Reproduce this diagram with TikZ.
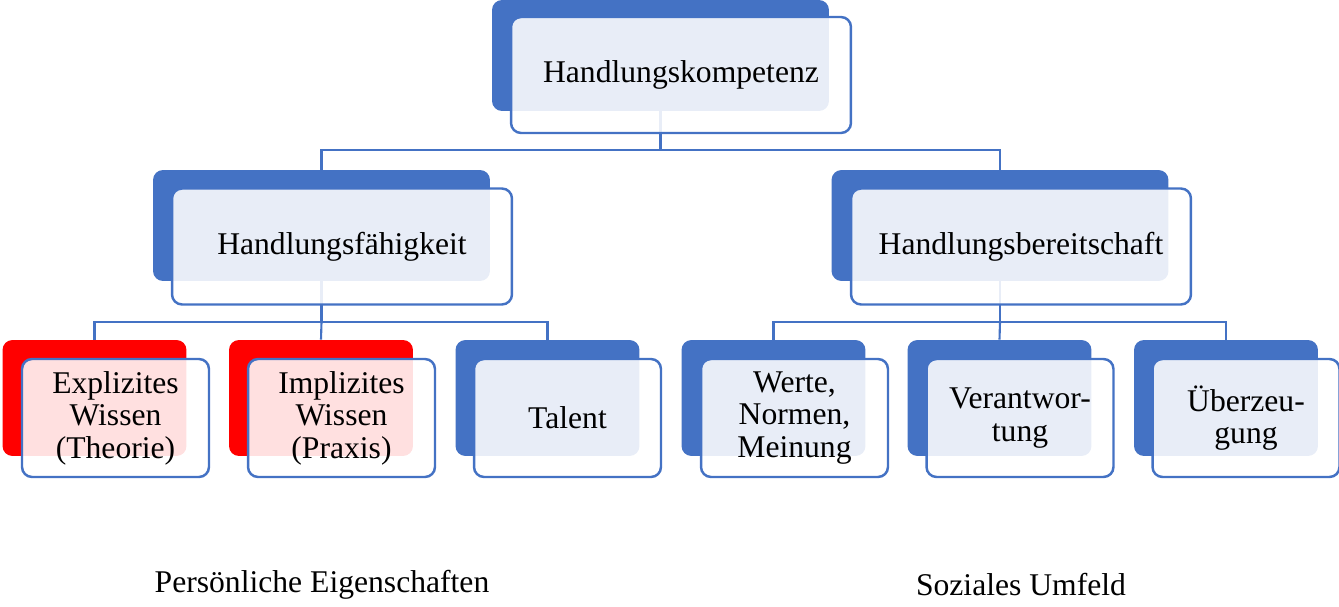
\documentclass[tikz,border=0pt]{standalone}
\usepackage{fontspec}
\setmainfont{Liberation Serif}
\definecolor{boxblue}{HTML}{4472C4}
\definecolor{boxred}{HTML}{FF0000}

\begin{document}
\begin{tikzpicture}[x=0.02cm, y=-0.02cm,
		backbox/.style={rounded corners=0.2cm, fill=boxblue, inner sep=0pt},
		redbox/.style={backbox, fill=boxred},
		bigback/.style={minimum width=6.74cm, minimum height=2.22cm},
		smallback/.style={minimum width=3.68cm, minimum height=2.32cm},
		frontbox/.style={draw=boxblue, line width=1.4pt, rounded corners=0.2cm, fill=white, fill opacity=0.88, text opacity=1, inner sep=0pt, align=center, font=\fontsize{18}{18.5}\selectfont},
		bigfront/.style={minimum width=6.8cm, minimum height=2.32cm},
		smallfront/.style={minimum width=3.74cm, minimum height=2.36cm},
		conn/.style={draw=boxblue, line width=1.2pt},
		caption/.style={font=\fontsize{18}{18.5}\selectfont, inner sep=0pt}]
		\useasboundingbox (0,0) rectangle (1339,607);
		
		% hintere Kaesten
		\node[backbox, bigback] (k0) at (660.5,55.5) {};
		\node[backbox, bigback] (f0) at (321.5,225.5) {};
		\node[backbox, bigback] (b0) at (1000,225.5) {};
		
		\node[redbox, smallback] (e0) at (94.5,398) {};
		\node[redbox, smallback] (i0) at (321,398) {};
		\node[backbox, smallback] (t0) at (547.5,398) {};
		\node[backbox, smallback] (w0) at (773.5,398) {};
		\node[backbox, smallback] (v0) at (999.5,398) {};
		\node[backbox, smallback] (u0) at (1226,398) {};
		
		% Verbindungen
		\coordinate (kj) at (k0.south |- 0,150);
		\coordinate (fj) at (f0.south |- 0,322);
		\coordinate (bj) at (b0.south |- 0,322);
		
		\draw[conn] (k0.south) -- (kj) -| (f0.north);
		\draw[conn] (kj) -| (b0.north);
		\draw[conn] (f0.south) -- (fj) -| (e0.north);
		\draw[conn] (fj) -| (t0.north);
		\draw[conn] (fj) -- (i0.north);
		\draw[conn] (b0.south) -- (bj) -| (w0.north);
		\draw[conn] (bj) -| (u0.north);
		\draw[conn] (bj) -- (v0.north);
		
		% vordere Kaesten
		\node[frontbox, bigfront] (K) at (681,75) {Handlungskompetenz};
		\node[frontbox, bigfront] (F) at (342,246.5) {Handlungsfähigkeit};
		\node[frontbox, bigfront] (B) at (1021,246.5) {Handlungsbereitschaft};
		
		\node[frontbox, smallfront] (E) at (115.5,418) {Explizites\\Wissen\\(Theorie)};
		\node[frontbox, smallfront] (I) at (341.5,418) {Implizites\\Wissen\\(Praxis)};
		\node[frontbox, smallfront] (T) at (567.5,418) {Talent};
		\node[frontbox, smallfront] (W) at (794.5,418) {Werte,\\Normen,\\Meinung};
		\node[frontbox, smallfront] (V) at (1020,418) {Verantwor-\\tung};
		\node[frontbox, smallfront] (U) at (1246,418) {Überzeu-\\gung};
		
		\node[caption] (P) at (322,585) {Persönliche Eigenschaften};
		\node[caption] (S) at (1021,585) {Soziales Umfeld};
	\end{tikzpicture}
\end{document}
